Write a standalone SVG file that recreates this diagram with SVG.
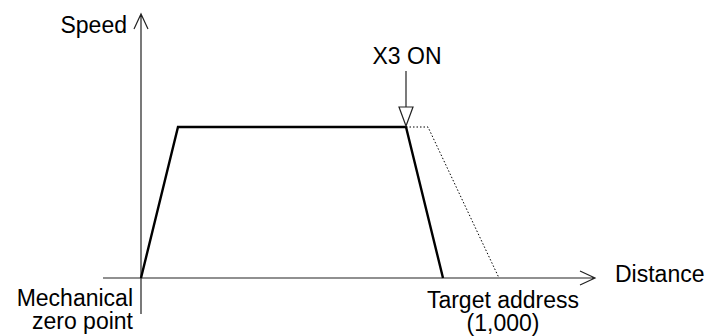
<svg xmlns="http://www.w3.org/2000/svg" width="707" height="336" viewBox="0 0 707 336">
<style>
text{font-family:"Liberation Sans",Arial,sans-serif;font-size:23px;fill:#000}
.ax{stroke:#222;stroke-width:1.2;fill:none}
.prof{stroke:#000;stroke-width:2.4;fill:none;stroke-linejoin:miter}
.dot{stroke:#000;stroke-width:1;fill:none;stroke-dasharray:1.5,2}
</style>
<rect width="707" height="336" fill="#fff"/>
<g id="connectors">
<path class="ax" d="M141,314 V14 M134,29 L141,14 L148,29"/>
<path class="ax" d="M103,278 H594 M580,271 L595,278 L580,285"/>
<path class="dot" d="M406,127 H428 L499,278"/>
<path class="prof" d="M141,278 L178,127 H406 L443,278"/>
<path class="ax" d="M406,71 V107"/>
<path d="M399,107 H413 L406,126 Z" fill="#fff" stroke="#222" stroke-width="1.2"/>
</g>
<g id="speed"><text x="127" y="33" text-anchor="end">Speed</text></g>
<g id="x3on"><text x="407" y="64" text-anchor="middle">X3 ON</text></g>
<g id="distance"><text x="615" y="282">Distance</text></g>
<g id="zero"><text x="133" y="306" text-anchor="end">Mechanical</text><text x="133" y="329" text-anchor="end">zero point</text></g>
<g id="target"><text x="503" y="308" text-anchor="middle">Target address</text><text x="503" y="331" text-anchor="middle">(1,000)</text></g>
</svg>
